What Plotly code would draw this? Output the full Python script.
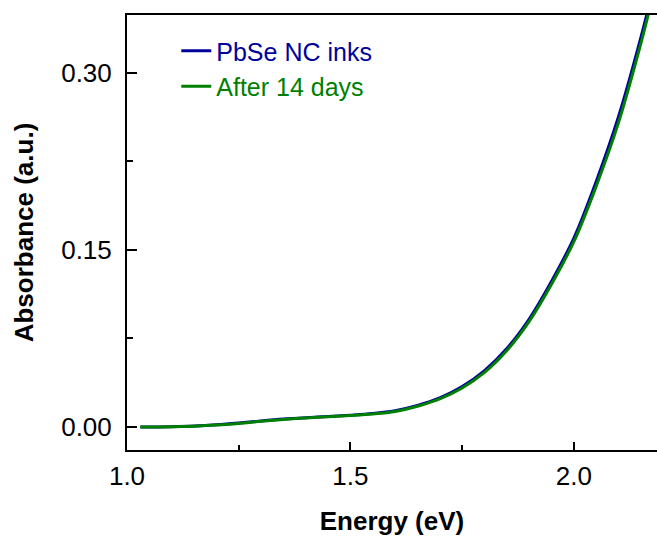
import plotly.graph_objects as go

energy = [1.03, 1.10, 1.15, 1.20, 1.25, 1.30, 1.35, 1.40, 1.45, 1.50, 1.55, 1.60,
          1.65, 1.70, 1.75, 1.80, 1.85, 1.90, 1.95, 2.00, 2.05, 2.10, 2.15, 2.17]
abs_fresh = [0.000, 0.0003, 0.0008, 0.0018, 0.0033, 0.0051, 0.0067, 0.0079, 0.0089, 0.0100,
             0.0114, 0.0138, 0.0182, 0.0246, 0.0342, 0.0478, 0.0665, 0.0915, 0.1235, 0.1600,
             0.2080, 0.2630, 0.3300, 0.3600]
abs_14days = [0.000, 0.0002, 0.0007, 0.0016, 0.0030, 0.0048, 0.0064, 0.0077, 0.0087, 0.0097,
              0.0110, 0.0132, 0.0176, 0.0238, 0.0330, 0.0462, 0.0648, 0.0895, 0.1210, 0.1570,
              0.2040, 0.2580, 0.3250, 0.3550]
names = ["PbSe NC inks", "After 14 days"]
colors = ["#00009C", "#008000"]

FONT = "Liberation Sans, Arial, sans-serif"

fig = go.Figure()
for name, ys, c in zip(names, [abs_fresh, abs_14days], colors):
    fig.add_trace(go.Scatter(
        x=energy, y=ys, mode="lines",
        line=dict(color=c, width=3, shape="spline", smoothing=1.0),
        name=f"<span style='color:{c}'>{name}</span>",
    ))

fig.update_layout(
    width=657, height=539,
    margin=dict(l=127, r=0, t=15, b=89),
    paper_bgcolor="white", plot_bgcolor="white",
    font=dict(family=FONT, size=26, color="black"),
    showlegend=True,
    legend=dict(x=0.093, y=0.97, xanchor="left", yanchor="top",
                bgcolor="rgba(0,0,0,0)", font=dict(size=25, family=FONT),
                tracegroupgap=0, itemwidth=30),
)
fig.update_xaxes(
    range=[1.0, 2.186], showgrid=False, zeroline=False,
    showline=True, linecolor="black", linewidth=2, mirror=True,
    ticks="inside", ticklen=8, tickwidth=2, tickcolor="black",
    tickvals=[1.0, 1.5, 2.0], ticktext=["1.0", "1.5", "2.0"],
    minor=dict(ticks="inside", ticklen=5, tickwidth=2, tickcolor="black",
               tickvals=[1.25, 1.75]),
    tickfont=dict(size=26), ticklabelstandoff=2,
    title=dict(text="<b>Energy (eV)</b>", font=dict(size=26), standoff=22),
)
fig.update_yaxes(
    range=[-0.0195, 0.349], showgrid=False, zeroline=False,
    showline=True, linecolor="black", linewidth=2, mirror=False,
    ticks="inside", ticklen=10, tickwidth=2, tickcolor="black",
    tickvals=[0.0, 0.15, 0.30], ticktext=["0.00", "0.15", "0.30"],
    minor=dict(ticks="inside", ticklen=6, tickwidth=2, tickcolor="black",
               tickvals=[0.075, 0.225]),
    tickfont=dict(size=26), ticklabelstandoff=8,
    title=dict(text="<b>Absorbance (a.u.)</b>", font=dict(size=26), standoff=20),
)

fig.write_html(
    "out.html",
    config={"displayModeBar": False},
    post_script="document.body.style.margin='0';document.body.style.overflow='hidden';",
)
